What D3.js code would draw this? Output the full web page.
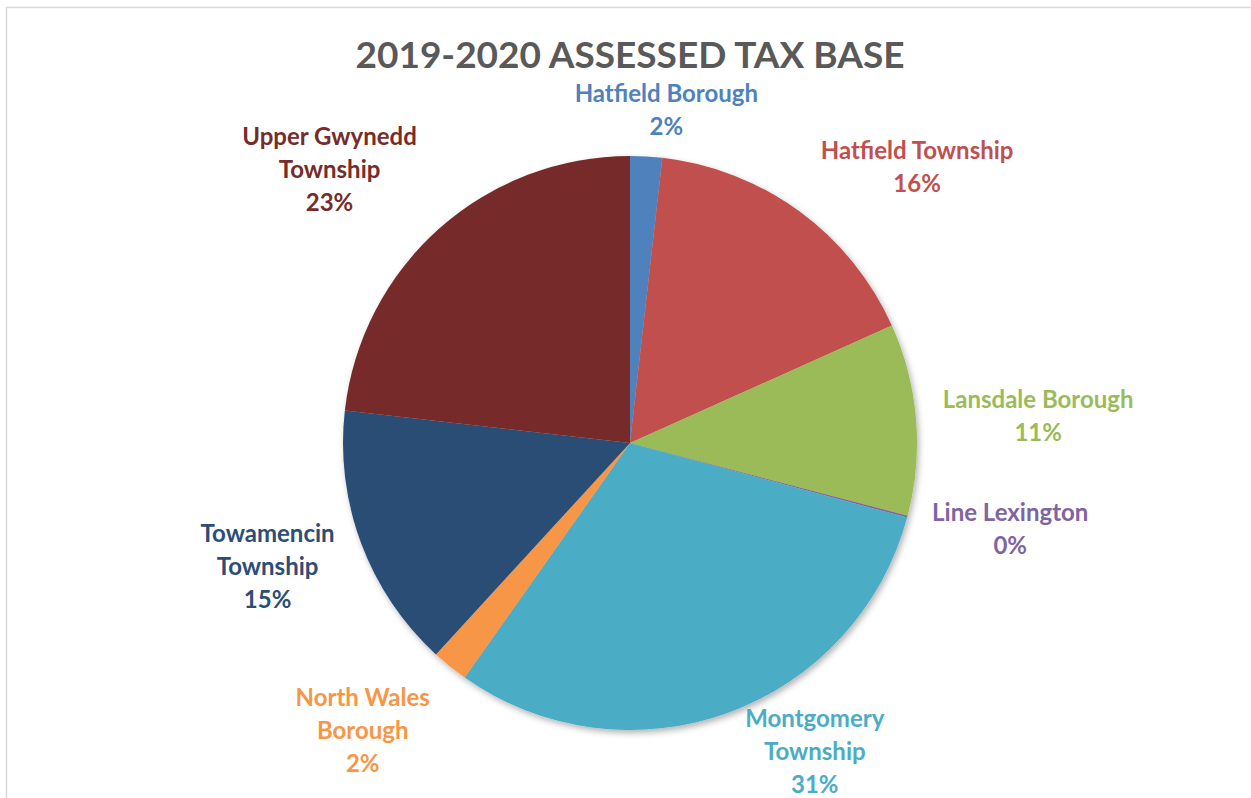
<!DOCTYPE html>
<html>
<head>
<meta charset="utf-8">
<script src="https://cdn.jsdelivr.net/npm/d3@7"></script>
<style>
  body { margin: 0; background: #fff; }
  svg { display: block; }
</style>
</head>
<body>
<svg id="chart" width="1251" height="798"></svg>
<script>
// data (percent of assessed tax base)
var labels = ["Hatfield Borough","Hatfield Township","Lansdale Borough","Line Lexington",
              "Montgomery Township","North Wales Borough","Towamencin Township","Upper Gwynedd Township"];
var values = [1.8, 16.5, 10.8, 0.1, 30.6, 2.05, 15.0, 23.2];
var shown  = ["2%","16%","11%","0%","31%","2%","15%","23%"];
var colors = ["#4F81BD","#C0504D","#9BBB59","#8064A2","#4BACC6","#F79646","#2C4D75","#772C2A"];

// label text broken into lines like the original
var labelLines = {
    "Hatfield Borough": ["Hatfield Borough"],
    "Hatfield Township": ["Hatfield Township"],
    "Lansdale Borough": ["Lansdale Borough"],
    "Line Lexington": ["Line Lexington"],
    "Montgomery Township": ["Montgomery", "Township"],
    "North Wales Borough": ["North Wales", "Borough"],
    "Towamencin Township": ["Towamencin", "Township"],
    "Upper Gwynedd Township": ["Upper Gwynedd", "Township"]
};
// label placement: [angle nudge (deg), radius]
var labelPlace = {
    "Hatfield Borough": [3, 334],
    "Hatfield Township": [10, 398],
    "Lansdale Borough": [1, 409],
    "Line Lexington": [-2, 390],
    "Montgomery Township": [-11, 360],
    "North Wales Borough": [4, 393],
    "Towamencin Township": [1.6, 383],
    "Upper Gwynedd Township": [-6, 406]
};

var svg = d3.select("#chart");
var cx = 630, cy = 443, r = 287;
var lineH = 33;

var defs = svg.append("defs");
var f = defs.append("filter").attr("id","shadow")
    .attr("x","-10%").attr("y","-10%").attr("width","120%").attr("height","120%");
f.append("feDropShadow").attr("dx",2).attr("dy",3).attr("stdDeviation",3)
    .attr("flood-color","#000").attr("flood-opacity",0.3);

// chart area border (only top and left visible in the crop)
svg.append("path")
    .attr("d","M6.5,798 L6.5,7.5 L1251,7.5")
    .attr("fill","none").attr("stroke","#d9d9d9").attr("stroke-width",1.5);

svg.append("text")
    .attr("x", cx).attr("y", 68)
    .attr("text-anchor","middle")
    .style("font-family","Lato, 'Open Sans', sans-serif")
    .style("font-weight","bold")
    .style("font-size","37px")
    .style("fill","#595959")
    .text("2019-2020 ASSESSED TAX BASE");

var pie = d3.pie().sort(null).value(function(d){ return d; });
var arc = d3.arc().innerRadius(0).outerRadius(r);
var arcs = pie(values);

var g = svg.append("g").attr("transform","translate(" + cx + "," + cy + ")");

g.append("g").attr("filter","url(#shadow)")
  .selectAll("path")
  .data(arcs)
  .enter()
  .append("path")
  .attr("d", arc)
  .attr("fill", function(d,i){ return colors[i]; });

function midAngle(d) {
    return d.startAngle + (d.endAngle - d.startAngle) / 2; }

var lbl = g.selectAll("text.lbl")
  .data(arcs)
  .enter()
  .append("text")
  .attr("class","lbl")
  .attr("text-anchor","middle")
  .style("font-family","Lato, 'Open Sans', sans-serif")
  .style("font-weight","bold")
  .style("font-size","24px")
  .style("fill", function(d,i){ return colors[i]; })
  .attr("transform", function(d,i) {
      var p = labelPlace[labels[i]];
      var a = midAngle(d) + p[0] * Math.PI / 180;
      var x = Math.sin(a) * p[1];
      var y = -Math.cos(a) * p[1];
      return "translate(" + x + "," + y + ")";
  });

lbl.each(function(d,i) {
    var lines = labelLines[labels[i]].concat([shown[i]]);
    var t = d3.select(this);
    var y0 = -(lines.length - 1) * lineH / 2 + 8;
    lines.forEach(function(s, k) {
        t.append("tspan").attr("x", 0).attr("y", y0 + k * lineH).text(s);
    });
});
</script>
</body>
</html>
